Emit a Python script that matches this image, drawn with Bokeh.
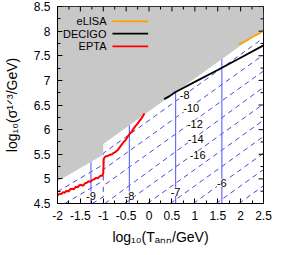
import numpy as np
from bokeh.plotting import figure
from bokeh.models import Range1d, FixedTicker, LabelSet, ColumnDataSource
from bokeh.embed import file_html
from bokeh.resources import INLINE
from bokeh.core.properties import value

# ---------------- data ----------------
x_ticks = [-2, -1.5, -1, -0.5, 0, 0.5, 1, 1.5, 2, 2.5]
x_tick_labels = ["-2", "-1.5", "-1", "-0.5", "0", "0.5", "1", "1.5", "2", "2.5"]
y_ticks = [4.5, 5, 5.5, 6, 6.5, 7, 7.5, 8, 8.5]
y_tick_labels = ["4.5", "5", "5.5", "6", "6.5", "7", "7.5", "8", "8.5"]
x_minor = [-1.75, -1.25, -0.75, -0.25, 0.25, 0.75, 1.25, 1.75, 2.25]
y_minor = [4.75, 5.25, 5.75, 6.25, 6.75, 7.25, 7.75, 8.25]
x_title = "log₁₀(Tₐₙₙ/GeV)"
y_title = "log₁₀(σ¹ᐟ³/GeV)"

# excluded (domain walls dominate) region
gray_x = [-2, -1, -1, 2.5, 2.5, -2]
gray_y = [4.95, 5.49, 5.71, 8.04, 8.5, 8.5]

# EPTA sensitivity curve
epta_x = [-2.00, -1.96, -1.92, -1.88, -1.84, -1.80, -1.76, -1.72, -1.68, -1.64,
          -1.60, -1.56, -1.52, -1.48, -1.44, -1.40, -1.36, -1.32, -1.28, -1.24,
          -1.20, -1.16, -1.12, -1.08, -1.04, -1.02, -1.00, -0.99, -0.97, -0.93,
          -0.89, -0.85, -0.81, -0.77, -0.73, -0.69, -0.65, -0.61, -0.57, -0.53,
          -0.49, -0.45, -0.41, -0.37, -0.33, -0.29, -0.25, -0.21, -0.17, -0.13, -0.10]
epta_y = [4.66, 4.70, 4.69, 4.73, 4.72, 4.76, 4.74, 4.79, 4.80, 4.79,
          4.84, 4.83, 4.87, 4.88, 4.86, 4.91, 4.92, 4.95, 4.94, 4.98,
          4.99, 5.02, 5.01, 5.05, 5.07, 5.06, 5.12, 5.40, 5.44, 5.46,
          5.47, 5.49, 5.50, 5.53, 5.55, 5.58, 5.63, 5.68, 5.73, 5.77,
          5.82, 5.88, 5.93, 5.97, 6.03, 6.08, 6.12, 6.18, 6.22, 6.28, 6.33]

# DECIGO sensitivity curve
decigo_x = [0.33, 0.45, 0.57, 1.0, 1.5, 2.0, 2.5]
decigo_y = [6.62, 6.68, 6.76, 6.97, 7.21, 7.46, 7.71]

# eLISA sensitivity curve
elisa_x = [1.96, 2.05, 2.12, 2.20, 2.30, 2.40, 2.50]
elisa_y = [7.74, 7.77, 7.80, 7.85, 7.90, 7.95, 8.01]

# peak-frequency contours (vertical), log10(f/Hz)
freq_labels = ["-9", "-8", "-7", "-6"]
freq_x = [-1.27, -0.43, 0.58, 1.59]
freq_ybot = [4.5, 4.5, 4.5, 4.5]
freq_ytop = [5.40, 6.10, 6.76, 7.44]
freq_label_y = [4.66, 4.66, 4.74, 4.92]

# Omega_GW h^2 contours (dashed)
omega_xs = [[-2.0, -1.0, -1.0, 2.5],
            [-1.84, -1.0, -1.0, 2.5],
            [-1.24, -1.0, -1.0, 2.5],
            [-0.965, 2.5],
            [-0.535, 2.5],
            [-0.035, 2.5],
            [0.465, 2.5],
            [0.965, 2.5],
            [1.465, 2.5],
            [1.965, 2.5]]
omega_ys = [[4.74, 5.29, 5.52, 7.86],
            [4.50, 4.96, 5.19, 7.52],
            [4.50, 4.63, 4.86, 7.19],
            [4.50, 6.86],
            [4.50, 6.52],
            [4.50, 6.19],
            [4.50, 5.86],
            [4.50, 5.52],
            [4.50, 5.19],
            [4.50, 4.86]]
omega_labels = ["-8", "-10", "-12", "-14", "-16"]
omega_label_x = [0.78, 0.92, 1.00, 1.02, 1.06]
omega_label_y = [6.70, 6.44, 6.12, 5.81, 5.49]

legend_names = ["eLISA", "DECIGO", "EPTA"]
legend_colors = ["#ffa000", "#000000", "#ff0000"]

# ---------------- styles ----------------
FONT = "Liberation Sans"
BLUE_V = "#6b6bff"
BLUE_D = "#4747df"
X0, X1, Y0, Y1 = -2, 2.5, 4.5, 8.5
FW, FH = 209, 198            # frame size in px
DX, DY = (X1 - X0) / FW, (Y1 - Y0) / FH   # data units per px

p = figure(width=274, height=247, x_range=Range1d(X0, X1), y_range=Range1d(Y0, Y1),
           output_backend="svg", toolbar_location=None,
           min_border_left=54, min_border_right=11, min_border_top=6, min_border_bottom=43)
p.grid.visible = False
p.outline_line_color = "black"
p.outline_line_width = 1
p.background_fill_color = "white"
p.border_fill_color = "white"

for ax, ticks, minor, labels, title in ((p.xaxis[0], x_ticks, x_minor, x_tick_labels, x_title),
                                        (p.yaxis[0], y_ticks, y_minor, y_tick_labels, y_title)):
    ax.ticker = FixedTicker(ticks=ticks, minor_ticks=minor)
    ax.major_label_overrides = {t: l for t, l in zip(ticks, labels)}
    ax.axis_line_color = "black"
    ax.major_tick_in = 5
    ax.major_tick_out = 0
    ax.minor_tick_in = 3
    ax.minor_tick_out = 0
    ax.major_label_text_font = FONT
    ax.major_label_text_font_size = "12px"
    ax.major_label_text_color = "black"
    ax.major_label_standoff = 7
    ax.axis_label = title
    ax.axis_label_text_font = FONT
    ax.axis_label_text_font_size = "14px"
    ax.axis_label_text_font_style = "normal"
    ax.axis_label_text_color = "black"
p.xaxis[0].axis_label_standoff = 6
p.yaxis[0].axis_label_standoff = 11

# contours
p.multi_line(xs=omega_xs, ys=omega_ys, line_color=BLUE_D, line_width=1, line_dash="5 4")
p.segment(x0=freq_x, y0=freq_ybot, x1=freq_x, y1=freq_ytop, line_color=BLUE_V, line_width=1.2)

# excluded region
p.patch(gray_x, gray_y, fill_color="#c8c8c8", line_color=None)

# contour labels
lab_src = ColumnDataSource(dict(x=freq_x + omega_label_x, y=freq_label_y + omega_label_y,
                                t=freq_labels + omega_labels))
p.add_layout(LabelSet(x="x", y="y", text="t", source=lab_src, text_align="center",
                      text_baseline="middle", text_font=value(FONT), text_font_size="11px",
                      text_color="black", background_fill_color="white"))

# sensitivity curves
p.line(epta_x, epta_y, line_color=legend_colors[2], line_width=2)
p.line(decigo_x, decigo_y, line_color=legend_colors[1], line_width=1.8)
p.line(elisa_x, elisa_y, line_color=legend_colors[0], line_width=1.8)

# legend (gnuplot style: text then sample)
leg_y = [8.2, 7.95, 7.69]
p.text(x=[-0.93] * 3, y=leg_y, text=legend_names, text_align="right", text_baseline="middle",
       text_font=value(FONT), text_font_size="11px", text_color="black")
p.segment(x0=[-0.80] * 3, y0=leg_y, x1=[-0.02] * 3, y1=leg_y, line_color=legend_colors, line_width=1.8)

# mirror ticks on top and right (gnuplot style)
p.segment(x0=x_ticks, y0=[Y1] * len(x_ticks), x1=x_ticks, y1=[Y1 - 5 * DY] * len(x_ticks),
          line_color="black", line_width=1)
p.segment(x0=x_minor, y0=[Y1] * len(x_minor), x1=x_minor, y1=[Y1 - 3 * DY] * len(x_minor),
          line_color="black", line_width=1)
p.segment(x0=[X1] * len(y_ticks), y0=y_ticks, x1=[X1 - 5 * DX] * len(y_ticks), y1=y_ticks,
          line_color="black", line_width=1)
p.segment(x0=[X1] * len(y_minor), y0=y_minor, x1=[X1 - 3 * DX] * len(y_minor), y1=y_minor,
          line_color="black", line_width=1)

open("out.html", "w").write(file_html(p, INLINE))
